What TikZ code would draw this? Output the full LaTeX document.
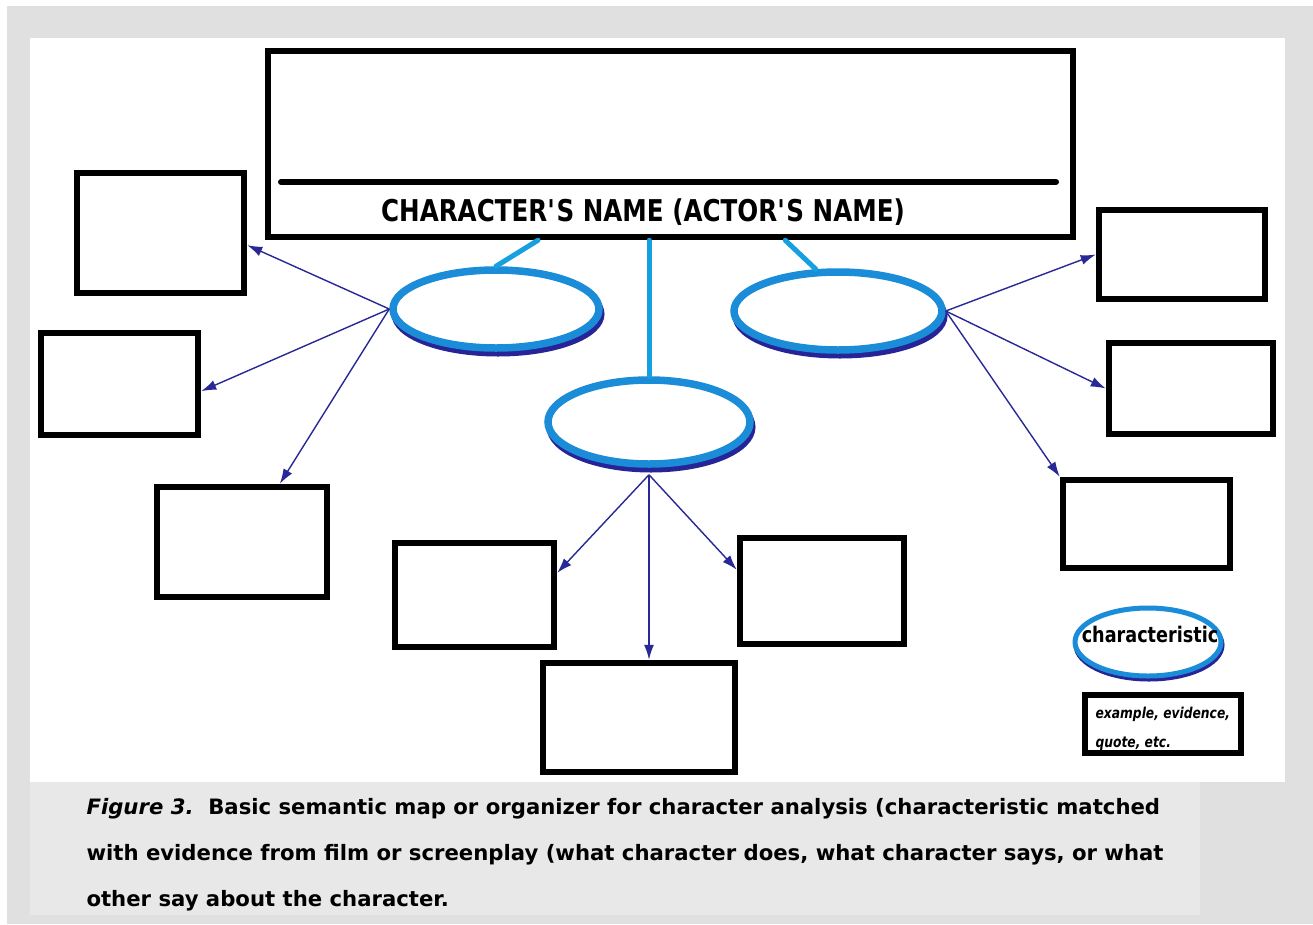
\documentclass[tikz,border=0pt]{standalone}
\usepackage{fontspec}
\setmainfont{DejaVu Sans}
\newfontfamily\narrowfont{DejaVu Sans}[FakeStretch=0.82]
\usetikzlibrary{shapes.geometric,arrows.meta,calc}
\definecolor{pagegray}{RGB}{224,224,224}
\definecolor{capgray}{RGB}{232,232,232}
\definecolor{ringblue}{RGB}{27,140,216}
\definecolor{linkblue}{RGB}{22,160,224}
\definecolor{shadeblue}{RGB}{38,36,150}
\definecolor{arrowblue}{RGB}{40,40,150}
\tikzset{
box/.style={draw=black,line width=6.5pt,rectangle,inner sep=0pt},
ring/.style={ellipse,draw=ringblue,line width=7.5pt,inner sep=0pt,fill=white},
ringshade/.style={draw=shadeblue,line width=7pt},
link/.style={linkblue,line width=5pt,line cap=round},
evid/.style={-{Latex[length=15pt,width=10pt]},arrowblue,line width=1.4pt},
titletext/.style={font=\narrowfont\bfseries\fontsize{30}{36}\selectfont,anchor=base},
keytext/.style={font=\narrowfont\bfseries\fontsize{21.5}{24}\selectfont,anchor=base},
notetext/.style={font=\narrowfont\bfseries\itshape\fontsize{15}{18}\selectfont,anchor=base west},
captext/.style={font=\bfseries\fontsize{21.2}{24}\selectfont,anchor=base west}
}
\begin{document}
\begin{tikzpicture}[x=1pt,y=-1pt]
\useasboundingbox (0,0) rectangle (1313,924);
% page and caption panel
\fill[white] (0,0) rectangle (1313,924);
\fill[pagegray] (7,6) rectangle (1313,924);
\fill[white] (30,38) rectangle (1285,782);
\fill[capgray] (30,782) rectangle (1200,915);

% title box
\node[box,minimum width=805,minimum height=186] (title) at (670.5,144) {};
\draw[line width=6pt,line cap=round] (281,182) -- (1056,182);
\node[titletext] (name) at (643,221) {CHARACTER\textquotesingle S NAME (ACTOR\textquotesingle S NAME)};

% evidence boxes
\foreach \nm/\cx/\cy/\w/\h in {l1/160.5/233/167/120, l2/119.5/384/157/102, l3/242/542/170/110,
  b1/474.5/595/159/104, b2/639/717.5/192/109, b3/822/591/164/106,
  r1/1182/254.5/166/89, r2/1191/388.5/164/91, r3/1146.5/524/167/88}
  \node[box,minimum width=\w,minimum height=\h] (\nm) at (\cx,\cy) {};

% characteristic ellipses
\foreach \nm/\cx/\cy/\rx/\ry in {e1/496/309/103/39, e2/838/311/104/39, e3/649/422/101/42} {
  \draw[ringshade] (\cx+2,\cy+5) ellipse [x radius=\rx, y radius=\ry];
  \node[ring,minimum width=2*\rx,minimum height=2*\ry] (\nm) at (\cx,\cy) {};
}

\draw[link] (title.216) -- (e1.north);
\draw[link] (title.south -| e3.north) -- (e3.north);
\draw[link] (title.320) -- (e2.118);

\coordinate (e3foot) at ([yshift=-7pt]e3.south);
\draw[evid] (e1.west) -- (l1.-8);
\draw[evid] (e1.west) -- (l2.-5);
\draw[evid] (e1.west) -- (l3.57);
\draw[evid] (e3foot) -- (b1.15);
\draw[evid] (e3foot) -- (e3foot |- b2.north);
\draw[evid] (e3foot) -- (b3.166);
\draw[evid] (e2.east) -- (r1.west);
\draw[evid] (e2.east) -- (r2.west);
\draw[evid] (e2.east) -- (r3.north west);

% key
\draw[ringshade,line width=5pt] (1149,645) ellipse [x radius=73, y radius=34];
\node[ring,line width=5pt,minimum width=146,minimum height=68] (keyring) at (1148,642) {};
\node[keytext] (keyword) at (1150,642) {characteristic};
\node[box,minimum width=156,minimum height=58] (keybox) at (1163,724) {};
\node[notetext] (note1) at (1092,718) {example, evidence,};
\node[notetext] (note2) at (1092,747) {quote, etc.};

% caption
\node[captext] (cap1) at (83,814) {\textit{Figure 3.}\ \ Basic semantic map or organizer for character analysis (characteristic matched};
\node[captext] (cap2) at (83,860) {with evidence from film or screenplay (what character does, what character says, or what};
\node[captext] (cap3) at (83,906) {other say about the character.};
\end{tikzpicture}
\end{document}
